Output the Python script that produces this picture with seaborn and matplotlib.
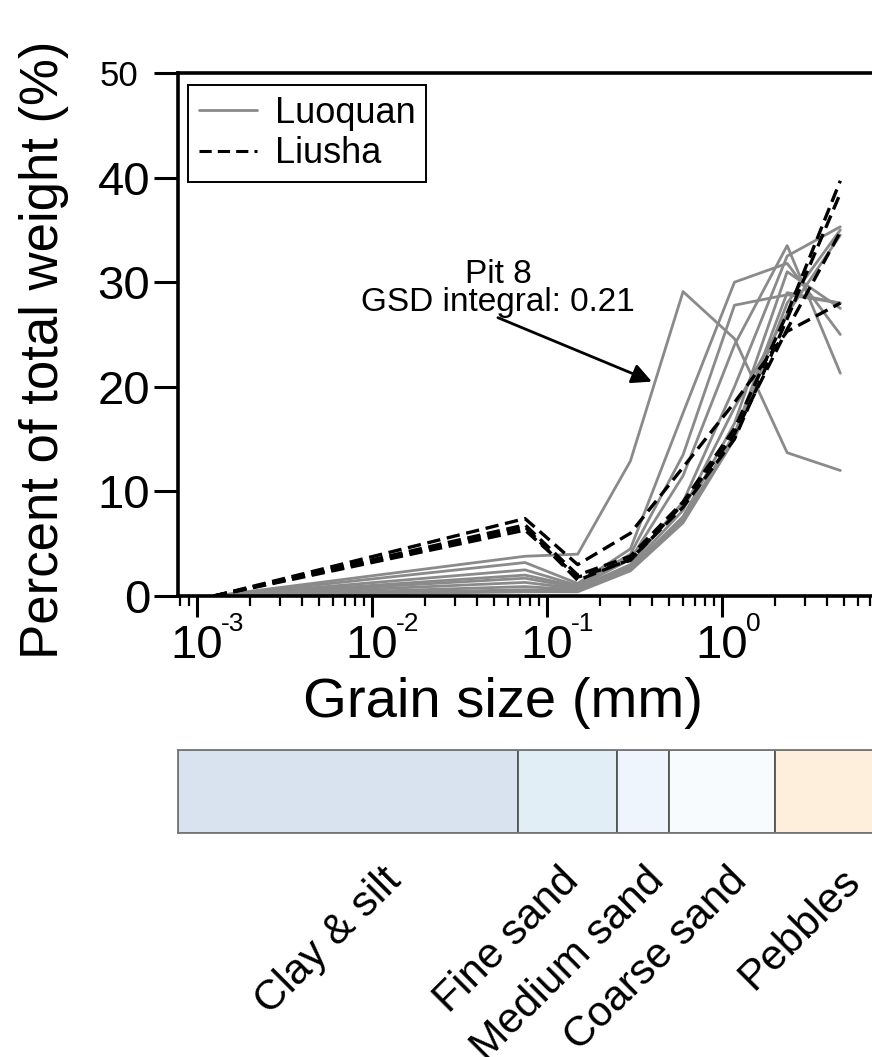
import numpy as np
import pandas as pd
import matplotlib
matplotlib.use("Agg")
import matplotlib.pyplot as plt
from matplotlib.lines import Line2D
from matplotlib.ticker import LogLocator, FuncFormatter, NullFormatter, NullLocator
import matplotlib.transforms as mtransforms
import seaborn as sns

# Sieve sizes (mm); first point is the fine-fraction origin
grain_size = [0.00125, 0.075, 0.15, 0.3, 0.6, 1.18, 2.36, 4.75]

# Percent of total weight retained, Luoquan pits
luoquan = {
    "Pit 8": [0, 3.8, 4.0, 12.9, 29.1, 24.6, 13.7, 12.0],
    "L2":    [0, 3.2, 1.2, 4.5, 17.5, 30.0, 31.8, 25.0],
    "L3":    [0, 2.5, 1.0, 4.0, 13.5, 27.8, 28.8, 28.0],
    "L4":    [0, 2.0, 0.9, 3.5, 11.5, 24.0, 33.5, 21.3],
    "L5":    [0, 1.7, 0.8, 3.0, 9.0, 20.0, 32.5, 35.3],
    "L6":    [0, 1.3, 0.7, 2.8, 8.2, 18.0, 27.0, 34.5],
    "L7":    [0, 0.9, 0.6, 2.6, 7.6, 16.5, 31.0, 27.5],
    "L8":    [0, 0.6, 0.5, 2.5, 7.3, 15.5, 29.0, 28.0],
    "L9":    [0, 0.4, 0.4, 2.4, 7.0, 15.0, 28.0, 35.0],
}

# Percent of total weight retained, Liusha pits
liusha = {
    "D1": [0, 7.4, 3.0, 6.0, 12.3, 18.5, 25.3, 28.0],
    "D2": [0, 6.8, 2.0, 3.8, 9.0, 16.0, 27.0, 39.7],
    "D3": [0, 6.6, 1.5, 3.5, 8.5, 15.0, 26.5, 38.5],
    "D4": [0, 6.3, 1.8, 3.4, 8.8, 15.5, 25.5, 34.8],
}

# Grain-size classes (mm)
class_names = ["Clay & silt", "Fine sand", "Medium sand", "Coarse sand", "Pebbles"]
class_edges = [7.8e-4, 0.068, 0.25, 0.5, 2.0, 9.5]
class_colors = ["#d9e3ef", "#e1eef6", "#eef5fc", "#f7fbfd", "#feeedc"]
class_label_x = [0.0113, 0.116, 0.36, 1.07, 4.75]

x_major = [1e-3, 1e-2, 1e-1, 1e0]
y_ticks = [0, 10, 20, 30, 40, 50]

rows = []
for site, group in (("Luoquan", luoquan), ("Liusha", liusha)):
    for sample, vals in group.items():
        for g, v in zip(grain_size, vals):
            rows.append({"site": site, "sample": sample, "grain": g, "pct": v})
df = pd.DataFrame(rows)

sns.set_theme(style="ticks")
plt.rcParams["font.family"] = ["Liberation Sans", "DejaVu Sans"]
plt.rcParams["text.color"] = "black"
plt.rcParams["axes.labelcolor"] = "black"
plt.rcParams["xtick.color"] = "black"
plt.rcParams["ytick.color"] = "black"

fig = plt.figure(figsize=(8.72, 10.57), dpi=100)
W, H = 872.0, 1057.0
ax = fig.add_axes([178 / W, (H - 596) / H, 715 / W, 523 / H])

sns.lineplot(data=df[df.site == "Luoquan"], x="grain", y="pct", units="sample",
             estimator=None, color="#8a8a8a", lw=2.0, ax=ax, legend=False)
sns.lineplot(data=df[df.site == "Liusha"], x="grain", y="pct", units="sample",
             estimator=None, color="black", lw=2.4, ax=ax, legend=False)
for ln in ax.lines[len(luoquan):]:
    ln.set_dashes((4, 2))

ax.set_xscale("log")
ax.set_xlim(class_edges[0], class_edges[-1])
ax.set_ylim(0, 50)
ax.set_yticks(y_ticks)
ax.set_xticks(x_major)
ax.xaxis.set_minor_locator(LogLocator(base=10, subs=np.arange(2, 10), numticks=20))
ax.xaxis.set_major_formatter(FuncFormatter(lambda v, p: "10"))
ax.xaxis.set_minor_formatter(NullFormatter())

for side in ("left", "bottom", "top"):
    ax.spines[side].set_linewidth(2.6)
    ax.spines[side].set_color("black")
ax.spines["right"].set_visible(False)

ax.tick_params(axis="y", which="major", length=17, width=2.2, labelsize=34, pad=3,
               direction="out", color="black", labelcolor="black")
ax.tick_params(axis="x", which="major", length=15, width=2.2, labelsize=34, pad=5,
               direction="out", color="black", labelcolor="black")
ax.tick_params(axis="x", which="minor", length=7, width=1.6, direction="out", color="black")

# smaller top label on the y axis
lab50 = ax.get_yticklabels()[-1]
lab50.set_fontsize(25)
lab50.set_transform(lab50.get_transform() +
                    mtransforms.ScaledTranslation(-12 / 100, 0, fig.dpi_scale_trans))

# decade exponents written as raised text beside each "10"
xaxis_tr = ax.get_xaxis_transform()
for v in x_major:
    ax.annotate("%d" % int(round(np.log10(v))), xy=(v, 0), xycoords=xaxis_tr,
                xytext=(17, -25), textcoords="offset points", ha="left", va="baseline",
                fontsize=19, color="black", annotation_clip=False)

ax.set_xlabel("Grain size (mm)", fontsize=40.5, color="black")
ax.xaxis.set_label_coords(0.455, -0.155)
ax.set_ylabel("Percent of total weight (%)", fontsize=38, color="black")
ax.yaxis.set_label_coords(-0.152, 0.47)

handles = [Line2D([], [], color="#8a8a8a", lw=2.0),
           Line2D([], [], color="black", lw=2.2, dashes=(4, 2))]
leg = ax.legend(handles, ["Luoquan", "Liusha"], loc="upper left",
                bbox_to_anchor=(0.014, 0.977), borderaxespad=0, fontsize=26,
                frameon=True, fancybox=False, framealpha=1, edgecolor="black",
                handlelength=1.6, handletextpad=0.5, borderpad=0.3, labelspacing=0.15)
leg.get_frame().set_linewidth(1.4)
for t in leg.get_texts():
    t.set_color("black")

ax.annotate("Pit 8\nGSD integral: 0.21", xy=(0.398, 20.5), xytext=(0.0525, 29.4),
            ha="center", va="center", fontsize=24, linespacing=0.85, color="black",
            arrowprops=dict(arrowstyle="-|>", color="black", lw=2.0, relpos=(0.5, 0.0),
                            patchA=None, mutation_scale=30, shrinkA=0, shrinkB=0))

# Grain-size class band
bax = fig.add_axes([178 / W, (H - 833) / H, 715 / W, 83 / H])
bax.set_xscale("log")
bax.set_xlim(class_edges[0], class_edges[-1])
bax.set_ylim(0, 1)
for i, c in enumerate(class_colors):
    bax.axvspan(class_edges[i], class_edges[i + 1], ymin=0, ymax=1,
                facecolor=c, edgecolor="#555555", lw=1.3)
bax.set_xticks([])
bax.set_yticks([])
bax.xaxis.set_minor_locator(NullLocator())
for s in bax.spines.values():
    s.set_color("#777777")
    s.set_linewidth(1.3)
bax.spines["right"].set_visible(False)

trans = mtransforms.blended_transform_factory(bax.transData, bax.transAxes)
for name, xpos in zip(class_names, class_label_x):
    bax.text(xpos, -0.33, name, transform=trans, rotation=45, rotation_mode="anchor",
             ha="right", va="top", fontsize=30.5, color="black")

fig.savefig("out.png", dpi=100)
